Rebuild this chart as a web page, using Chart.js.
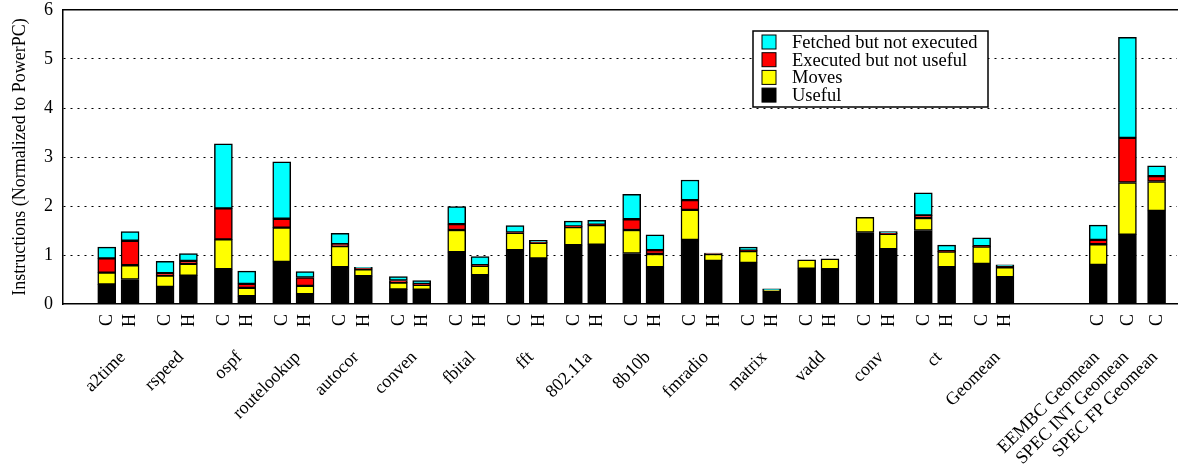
<!DOCTYPE html>
<html>
<head>
<meta charset="utf-8">
<script src="https://cdn.jsdelivr.net/npm/chart.js@4.4.0/dist/chart.umd.min.js"></script>
<style>
body { margin: 0; background: #fff; }
#wrap { width: 1181px; height: 465px; }
</style>
</head>
<body>
<div id="wrap"><canvas id="myChart"></canvas></div>
<script>
'use strict'

let benchmarks = ['a2time', 'rspeed', 'ospf', 'routelookup', 'autocor', 'conven', 'fbital', 'fft',
    '802.11a', '8b10b', 'fmradio', 'matrix', 'vadd', 'conv', 'ct', 'Geomean']
let extraNames = ['EEMBC Geomean', 'SPEC INT Geomean', 'SPEC FP Geomean']
// one entry per bar: C and H for each benchmark, then the three C geomeans
let barTags = ['C', 'H', 'C', 'H', 'C', 'H', 'C', 'H', 'C', 'H', 'C', 'H', 'C', 'H', 'C', 'H',
    'C', 'H', 'C', 'H', 'C', 'H', 'C', 'H', 'C', 'H', 'C', 'H', 'C', 'H', 'C', 'H', 'C', 'C', 'C']
let useful = [0.40, 0.50, 0.35, 0.58, 0.71, 0.16, 0.86, 0.20, 0.75, 0.57, 0.30, 0.29, 1.06, 0.59, 1.10, 0.93,
    1.20, 1.21, 1.03, 0.75, 1.31, 0.88, 0.84, 0.25, 0.72, 0.71, 1.46, 1.12, 1.50, 0.75, 0.82, 0.55, 0.80, 1.415, 1.90]
let moves = [0.24, 0.29, 0.23, 0.24, 0.61, 0.17, 0.70, 0.17, 0.43, 0.14, 0.135, 0.10, 0.45, 0.19, 0.35, 0.32,
    0.37, 0.40, 0.48, 0.27, 0.61, 0.14, 0.24, 0.04, 0.18, 0.21, 0.31, 0.31, 0.255, 0.32, 0.35, 0.20, 0.42, 1.065, 0.60]
let executed = [0.29, 0.50, 0.05, 0.06, 0.63, 0.08, 0.18, 0.17, 0.04, 0.02, 0.045, 0.02, 0.12, 0.01, 0.01, 0.01,
    0.015, 0.01, 0.22, 0.08, 0.20, 0.01, 0.01, 0, 0, 0, 0, 0.01, 0.055, 0.01, 0.01, 0.01, 0.09, 0.91, 0.11]
let fetched = [0.23, 0.19, 0.24, 0.15, 1.32, 0.26, 1.16, 0.12, 0.22, 0.02, 0.08, 0.07, 0.36, 0.18, 0.14, 0.04,
    0.105, 0.09, 0.51, 0.31, 0.41, 0.01, 0.07, 0.02, 0, 0, 0, 0.04, 0.46, 0.12, 0.17, 0.04, 0.30, 2.05, 0.21]
let yTicks = [0, 1, 2, 3, 4, 5, 6]

const SLOTS = 191
const FIRST = 7
let barSlots = []
for (let i = 0; i < benchmarks.length; i++) {
    barSlots.push(FIRST + 10 * i, FIRST + 10 * i + 4)
}
for (let j = 0; j < extraNames.length; j++) {
    barSlots.push(FIRST + 170 + 5 * j)
}
let tagLabels = new Array(SLOTS).fill('')
let nameLabels = new Array(SLOTS).fill('')
barSlots.forEach((s, k) => { tagLabels[s] = barTags[k] })
benchmarks.forEach((b, i) => { nameLabels[FIRST + 10 * i + 3] = b })
extraNames.forEach((n, j) => { nameLabels[FIRST + 170 + 5 * j] = n })

function spread(values) {
    let arr = new Array(SLOTS).fill(null)
    barSlots.forEach((s, k) => { if (values[k] > 0) arr[s] = values[k] })
    return arr
}

function makeSet(label, values, color) {
    return {
        label: label,
        data: spread(values),
        backgroundColor: color,
        borderColor: '#000',
        borderWidth: 1.5,
        borderSkipped: false,
        barThickness: 18
    }
}

// no side padding from the empty end labels
function noSidePad(s) {
    s.paddingLeft = 0
    s.paddingRight = 0
}

const boxLegend = {
    id: 'boxLegend',
    afterDraw(chart) {
        let ctx = chart.ctx
        ctx.save()
        ctx.fillStyle = '#fff'
        ctx.fillRect(753, 31, 235, 76)
        ctx.strokeStyle = '#000'
        ctx.lineWidth = 1.5
        ctx.strokeRect(753, 31, 235, 76)
        ctx.font = '18.5px "Liberation Serif"'
        ctx.textBaseline = 'middle'
        let sets = chart.data.datasets.slice().reverse()
        sets.forEach((ds, i) => {
            let y = 42 + i * 17.7
            ctx.fillStyle = ds.backgroundColor
            ctx.fillRect(762, y - 7, 14, 14)
            ctx.lineWidth = 1
            ctx.strokeRect(762, y - 7, 14, 14)
            ctx.fillStyle = '#000'
            ctx.fillText(ds.label, 792, y + 1)
        })
        ctx.restore()
    }
}

Chart.defaults.font.family = '"Liberation Serif", "Times New Roman", serif'
Chart.defaults.font.size = 18
Chart.defaults.color = '#000'

let ctx = document.getElementById('myChart')
const myChart = new Chart(ctx, {
    type: 'bar',
    data: {
        labels: tagLabels,
        datasets: [
            makeSet('Useful', useful, '#000000'),
            makeSet('Moves', moves, '#ffff00'),
            makeSet('Executed but not useful', executed, '#ff0000'),
            makeSet('Fetched but not executed', fetched, '#00ffff')
        ]
    },
    options: {
        responsive: true,
        maintainAspectRatio: false,
        animation: false,
        layout: { padding: { top: 10, right: 4, left: 0, bottom: 0 } },
        plugins: {
            legend: { display: false },
            tooltip: { enabled: false }
        },
        scales: {
            x: {
                stacked: true,
                position: 'bottom',
                weight: 1,
                grid: { display: false, drawTicks: false },
                border: { display: true, color: '#000', width: 1.5 },
                ticks: { autoSkip: false, minRotation: 90, maxRotation: 90, padding: 10, labelOffset: 0.5 },
                afterFit: (s) => { s.height = 30; noSidePad(s) }
            },
            x2: {
                type: 'category',
                labels: nameLabels,
                position: 'bottom',
                weight: 2,
                offset: true,
                grid: { display: false, drawTicks: false },
                border: { display: false },
                ticks: { autoSkip: false, minRotation: 45, maxRotation: 45, padding: 13, labelOffset: -1.5 },
                afterFit: (s) => { s.height = 131; noSidePad(s) }
            },
            xTop: {
                type: 'category',
                position: 'top',
                offset: true,
                grid: { display: false, drawTicks: false },
                border: { display: true, color: '#000', width: 1.5 },
                ticks: { display: false },
                afterFit: (s) => { s.height = 0; noSidePad(s) }
            },
            y: {
                stacked: true,
                min: yTicks[0],
                max: yTicks[yTicks.length - 1],
                grid: {
                    drawTicks: false,
                    color: (c) => (c.tick && (c.tick.value === 0 || c.tick.value === 6)) ? 'rgba(0,0,0,0)' : '#000',
                    lineWidth: 1
                },
                border: { display: true, color: '#000', width: 1.5, dash: [2, 5] },
                ticks: { stepSize: 1, padding: 10, font: { lineHeight: 1 } },
                title: {
                    display: true,
                    text: 'Instructions (Normalized to PowerPC)',
                    padding: { top: 9, bottom: 0 }
                },
                afterFit: (s) => {
                    s.width = 63
                    s.paddingTop = 0
                    s.paddingBottom = 0
                }
            }
        }
    },
    plugins: [boxLegend]
});
</script>
</body>
</html>
